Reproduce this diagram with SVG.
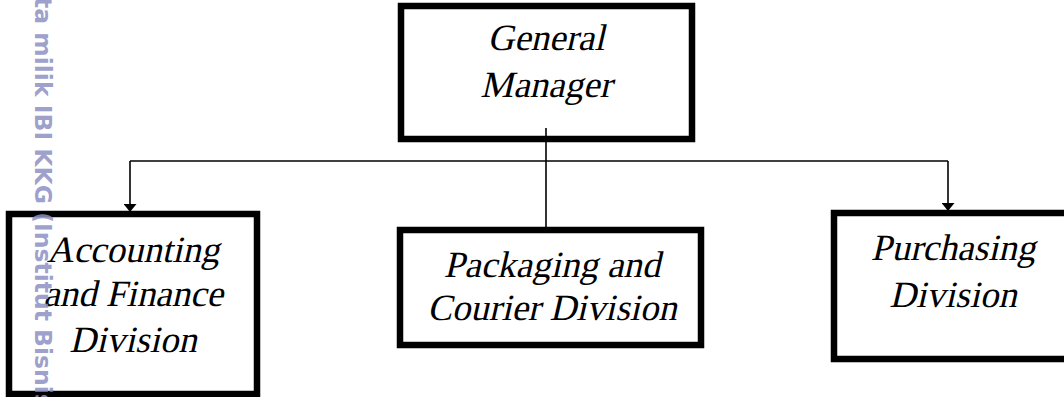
<svg xmlns="http://www.w3.org/2000/svg" width="1064" height="397" viewBox="0 0 1064 397">
<style>
.box{fill:#ffffff;stroke:#000000;stroke-width:6.5}
.lbl{font-family:"Liberation Serif",serif;font-style:normal;font-size:37px;fill:#000000;text-anchor:middle}
.conn{fill:none;stroke:#000000;stroke-width:1.6}
.wm{font-family:"DejaVu Sans",sans-serif;font-weight:bold;font-size:23.5px;fill:#8c91c4;opacity:0.85}
</style>
<defs>
<marker id="arr" viewBox="0 0 8 13" refX="8" refY="6.5" markerWidth="8" markerHeight="13" markerUnits="userSpaceOnUse" orient="auto">
<path d="M0,0 L8,6.5 L0,13 Z" fill="#000000"/>
</marker>
</defs>
<rect width="1064" height="397" fill="#ffffff"/>
<g id="connectors">
<line class="conn" x1="546" y1="128" x2="546" y2="227"/>
<line class="conn" x1="130" y1="161" x2="948" y2="161"/>
<path class="conn" d="M130,161 L130,212" marker-end="url(#arr)"/>
<path class="conn" d="M948,161 L948,211" marker-end="url(#arr)"/>
</g>
<g id="general-manager">
<rect class="box" x="401" y="6" width="291" height="133"/>
<text class="lbl" transform="translate(546,50) skewX(-13)">General</text>
<text class="lbl" transform="translate(546,97) skewX(-13)">Manager</text>
</g>
<line class="conn" x1="546" y1="128" x2="546" y2="142"/>
<g id="accounting">
<rect class="box" x="9" y="214" width="248" height="180"/>
<text class="lbl" transform="translate(133,262) skewX(-13)">Accounting</text>
<text class="lbl" transform="translate(133,306) skewX(-13)">and Finance</text>
<text class="lbl" transform="translate(133,352) skewX(-13)">Division</text>
</g>
<g id="packaging">
<rect class="box" x="400" y="230" width="301" height="115"/>
<text class="lbl" transform="translate(552,277) skewX(-13)">Packaging and</text>
<text class="lbl" transform="translate(552,320) skewX(-13)">Courier Division</text>
</g>
<g id="purchasing">
<rect class="box" x="834" y="213" width="250" height="146"/>
<text class="lbl" transform="translate(953,260) skewX(-13)">Purchasing</text>
<text class="lbl" transform="translate(953,307) skewX(-13)">Division</text>
</g>
<g id="watermark">
<text class="wm" transform="translate(35,-3) rotate(90)">ta milik IBI KKG (Institut Bisnis</text>
</g>
</svg>
